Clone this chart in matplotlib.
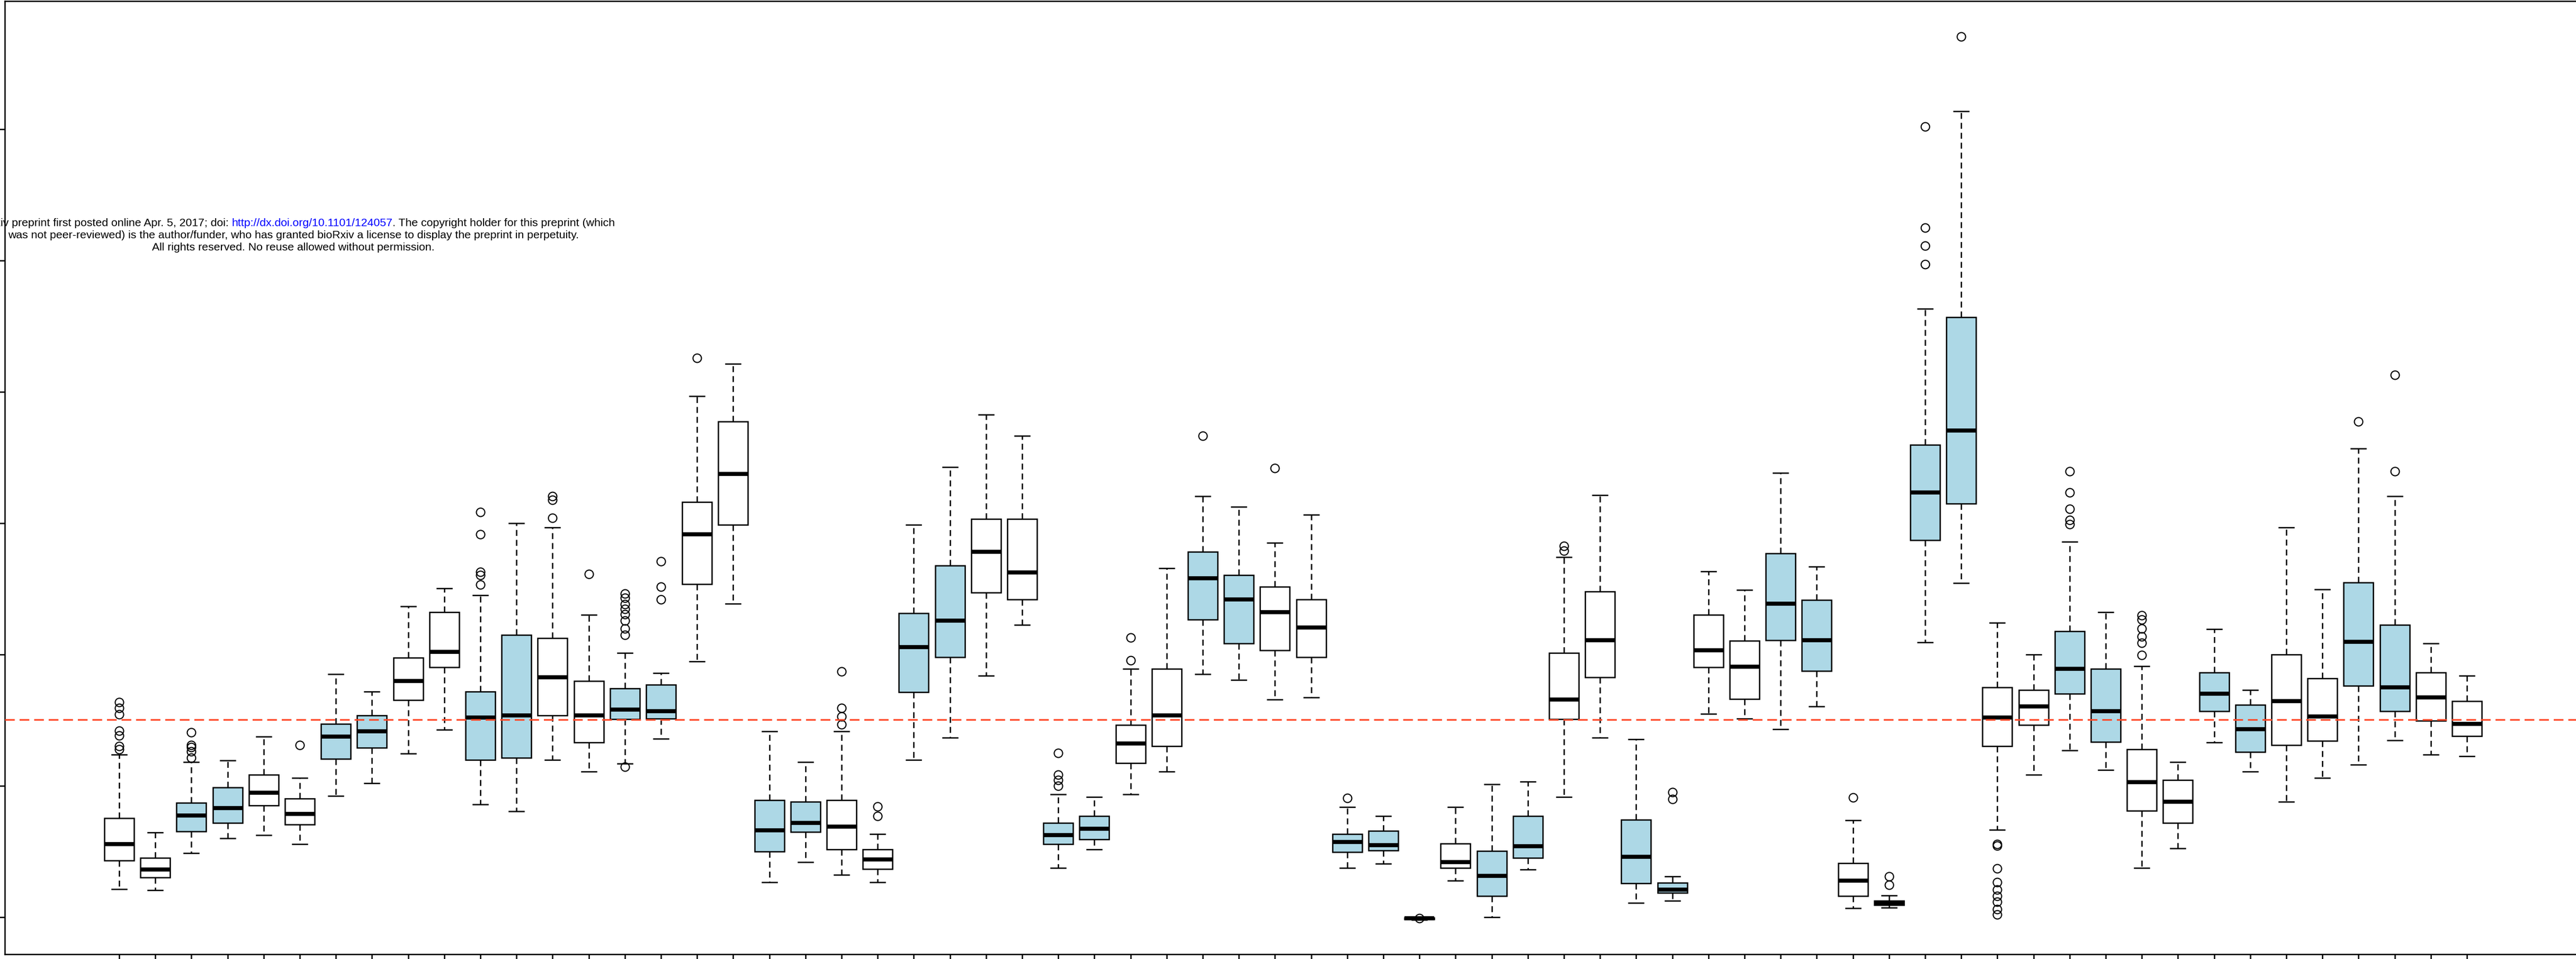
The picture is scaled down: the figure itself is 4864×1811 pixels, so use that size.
import matplotlib
matplotlib.use('Agg')
import matplotlib.pyplot as plt

W, H, DPI = 4864, 1811, 100

# five-number summaries, one entry per box (left to right)
whislo = [0.215, 0.205, 0.486, 0.601, 0.623, 0.557, 0.925, 1.021, 1.245, 1.429,
          0.859, 0.806, 1.196, 1.108, 1.170, 1.357, 1.946, 2.388, 0.268, 0.420,
          0.324, 0.268, 1.196, 1.367, 1.837, 2.226, 0.377, 0.517, 0.937, 1.108,
          1.849, 1.806, 1.656, 1.675, 0.377, 0.408, -0.020, 0.280, 0.000, 0.364,
          0.915, 1.367, 0.109, 0.124, 1.549, 1.511, 1.432, 1.605, 0.068, 0.073,
          2.094, 2.546, 0.664, 1.083, 1.270, 1.121, 0.377, 0.526, 1.332, 1.108,
          0.881, 1.062, 1.161, 1.345, 1.236, 1.227]
q1 = [0.430, 0.302, 0.654, 0.719, 0.850, 0.707, 1.205, 1.292, 1.653, 1.902,
      1.196, 1.214, 1.538, 1.332, 1.507, 1.513, 2.538, 2.989, 0.498, 0.648,
      0.517, 0.367, 1.712, 1.980, 2.472, 2.419, 0.557, 0.591, 1.174, 1.301,
      2.267, 2.086, 2.033, 1.980, 0.495, 0.507, -0.015, 0.377, 0.162, 0.451,
      1.507, 1.828, 0.258, 0.184, 1.903, 1.661, 2.108, 1.875, 0.161, 0.091,
      2.872, 3.151, 1.302, 1.465, 1.700, 1.336, 0.809, 0.719, 1.569, 1.258,
      1.311, 1.342, 1.762, 1.569, 1.494, 1.379]
med = [0.557, 0.364, 0.775, 0.831, 0.946, 0.788, 1.376, 1.417, 1.797, 2.021,
       1.519, 1.538, 1.828, 1.538, 1.582, 1.569, 2.914, 3.375, 0.660, 0.719,
       0.688, 0.439, 2.055, 2.257, 2.783, 2.625, 0.623, 0.672, 1.323, 1.538,
       2.581, 2.419, 2.323, 2.204, 0.573, 0.548, -0.010, 0.420, 0.314, 0.539,
       1.656, 2.108, 0.461, 0.208, 2.033, 1.907, 2.387, 2.108, 0.277, 0.105,
       3.235, 3.705, 1.521, 1.605, 1.893, 1.569, 1.030, 0.881, 1.700, 1.432,
       1.644, 1.529, 2.095, 1.750, 1.675, 1.473]
q3 = [0.753, 0.451, 0.869, 0.987, 1.086, 0.903, 1.473, 1.538, 1.977, 2.323,
      1.719, 2.151, 2.126, 1.797, 1.740, 1.772, 3.160, 3.774, 0.890, 0.881,
      0.890, 0.517, 2.313, 2.678, 3.033, 3.033, 0.719, 0.772, 1.463, 1.893,
      2.783, 2.603, 2.516, 2.419, 0.632, 0.657, -0.005, 0.560, 0.504, 0.772,
      2.011, 2.481, 0.741, 0.263, 2.303, 2.103, 2.769, 2.415, 0.412, 0.124,
      3.598, 4.567, 1.749, 1.730, 2.179, 1.893, 1.280, 1.043, 1.862, 1.616,
      1.999, 1.818, 2.547, 2.226, 1.862, 1.644]
whishi = [1.236, 0.644, 1.183, 1.192, 1.373, 1.062, 1.849, 1.719, 2.366, 2.506,
          2.450, 2.998, 2.967, 2.301, 2.011, 1.859, 3.967, 4.213, 1.417, 1.183,
          1.417, 0.632, 2.986, 3.428, 3.827, 3.665, 0.937, 0.915, 1.893, 2.656,
          3.204, 3.126, 2.849, 3.064, 0.840, 0.772, 0.000, 0.840, 1.012, 1.031,
          2.740, 3.213, 1.354, 0.310, 2.634, 2.490, 3.384, 2.671, 0.738, 0.166,
          4.632, 6.136, 2.243, 2.001, 2.858, 2.323, 1.912, 1.183, 2.192, 1.731,
          2.967, 2.494, 3.568, 3.204, 2.083, 1.837]
outliers = [
    [1.280, 1.301, 1.382, 1.420, 1.544, 1.591, 1.638], [], [1.214, 1.264, 1.295, 1.311, 1.407], [], [], [1.311],
    [], [], [], [], [2.534, 2.603, 2.628, 2.914, 3.086], [],
    [3.042, 3.179, 3.204], [2.612],
    [1.146, 2.151, 2.198, 2.260, 2.307, 2.347, 2.385, 2.432, 2.463], [2.419, 2.516, 2.709],
    [4.259], [], [], [], [1.466, 1.529, 1.591, 1.871], [0.772, 0.844],
    [], [], [], [], [0.999, 1.046, 1.083, 1.248], [], [1.955, 2.130], [],
    [3.665], [], [3.419], [], [0.906], [], [-0.010], [], [], [],
    [2.790, 2.827], [], [], [0.900, 0.950], [], [], [], [], [0.911], [0.245, 0.310],
    [4.972, 5.112, 5.251, 6.020], [6.704],
    [0.021, 0.059, 0.115, 0.161, 0.208, 0.268, 0.370, 0.543, 0.557], [],
    [2.992, 3.023, 3.107, 3.235, 3.397], [],
    [1.996, 2.089, 2.136, 2.198, 2.267, 2.298], [], [], [], [], [],
    [3.774], [3.397, 4.129], [], [],
]
ref_level = 1.505
y_ticks = [0, 1, 2, 3, 4, 5, 6]

notice = [
    ["bioRxiv preprint first posted online Apr. 5, 2017; doi: ",
     "http://dx.doi.org/10.1101/124057",
     ". The copyright holder for this preprint (which"],
    ["was not peer-reviewed) is the author/funder, who has granted bioRxiv a license to display the preprint in perpetuity."],
    ["All rights reserved. No reuse allowed without permission."],
]

fig = plt.figure(figsize=(W / DPI, H / DPI), dpi=DPI)
# plot area: left spine at ~9 px, top at ~2 px, bottom at ~1802 px
ax = fig.add_axes([9 / W, (H - 1802) / H, 1 - 9 / W, 1800 / H])

positions = list(range(1, len(med) + 1))
stats = []
for i in range(len(med)):
    stats.append(dict(whislo=whislo[i], q1=q1[i], med=med[i], q3=q3[i],
                      whishi=whishi[i], fliers=outliers[i]))

bp = ax.bxp(stats, positions=positions, widths=0.82, capwidths=0.41,
            patch_artist=True,
            boxprops=dict(linewidth=1.8, edgecolor='black'),
            medianprops=dict(color='black', linewidth=5.5, solid_capstyle='butt'),
            whiskerprops=dict(color='black', linewidth=1.8, linestyle=(0, (4.5, 3))),
            capprops=dict(color='black', linewidth=1.8),
            flierprops=dict(marker='o', markersize=11.5, markerfacecolor='none',
                            markeredgecolor='black', markeredgewidth=1.5))

# pairs of boxes alternate white / light blue
for i, patch in enumerate(bp['boxes']):
    patch.set_facecolor('white' if (i // 2) % 2 == 0 else '#ADD8E6')

ax.axhline(ref_level, color='#FF4A2A', linewidth=2.2, linestyle=(0, (6, 3)), zorder=5)

# box 1 sits at 225 px, boxes are 68.2 px apart
ax.set_xlim(1 - (225 - 9) / 68.2, 1 + (W - 225) / 68.2)
ax.set_ylim((1732 - 1802) / 248, (1732 - 2) / 248)

ax.set_xticks(positions)
ax.set_xticklabels([])
ax.set_yticks(y_ticks)
ax.set_yticklabels([])
ax.tick_params(axis='both', direction='out', length=12, width=1.8)
for side in ['left', 'top', 'bottom']:
    ax.spines[side].set_linewidth(1.8)
ax.spines['right'].set_visible(False)

# the preprint notice, each line centred at 554 px
renderer = fig.canvas.get_renderer()
baselines = [427, 450, 473]
for parts, base in zip(notice, baselines):
    texts = []
    for part in parts:
        col = '#0000FF' if part.startswith('http') else 'black'
        t = fig.text(0, 1 - base / H, part, fontsize=15.3, color=col,
                     family=['Liberation Sans', 'DejaVu Sans'],
                     ha='left', va='baseline')
        texts.append(t)
    widths = [t.get_window_extent(renderer).width for t in texts]
    x = 554 - sum(widths) / 2
    for t, w in zip(texts, widths):
        t.set_x(x / W)
        x += w

fig.savefig('out.png', dpi=DPI)
